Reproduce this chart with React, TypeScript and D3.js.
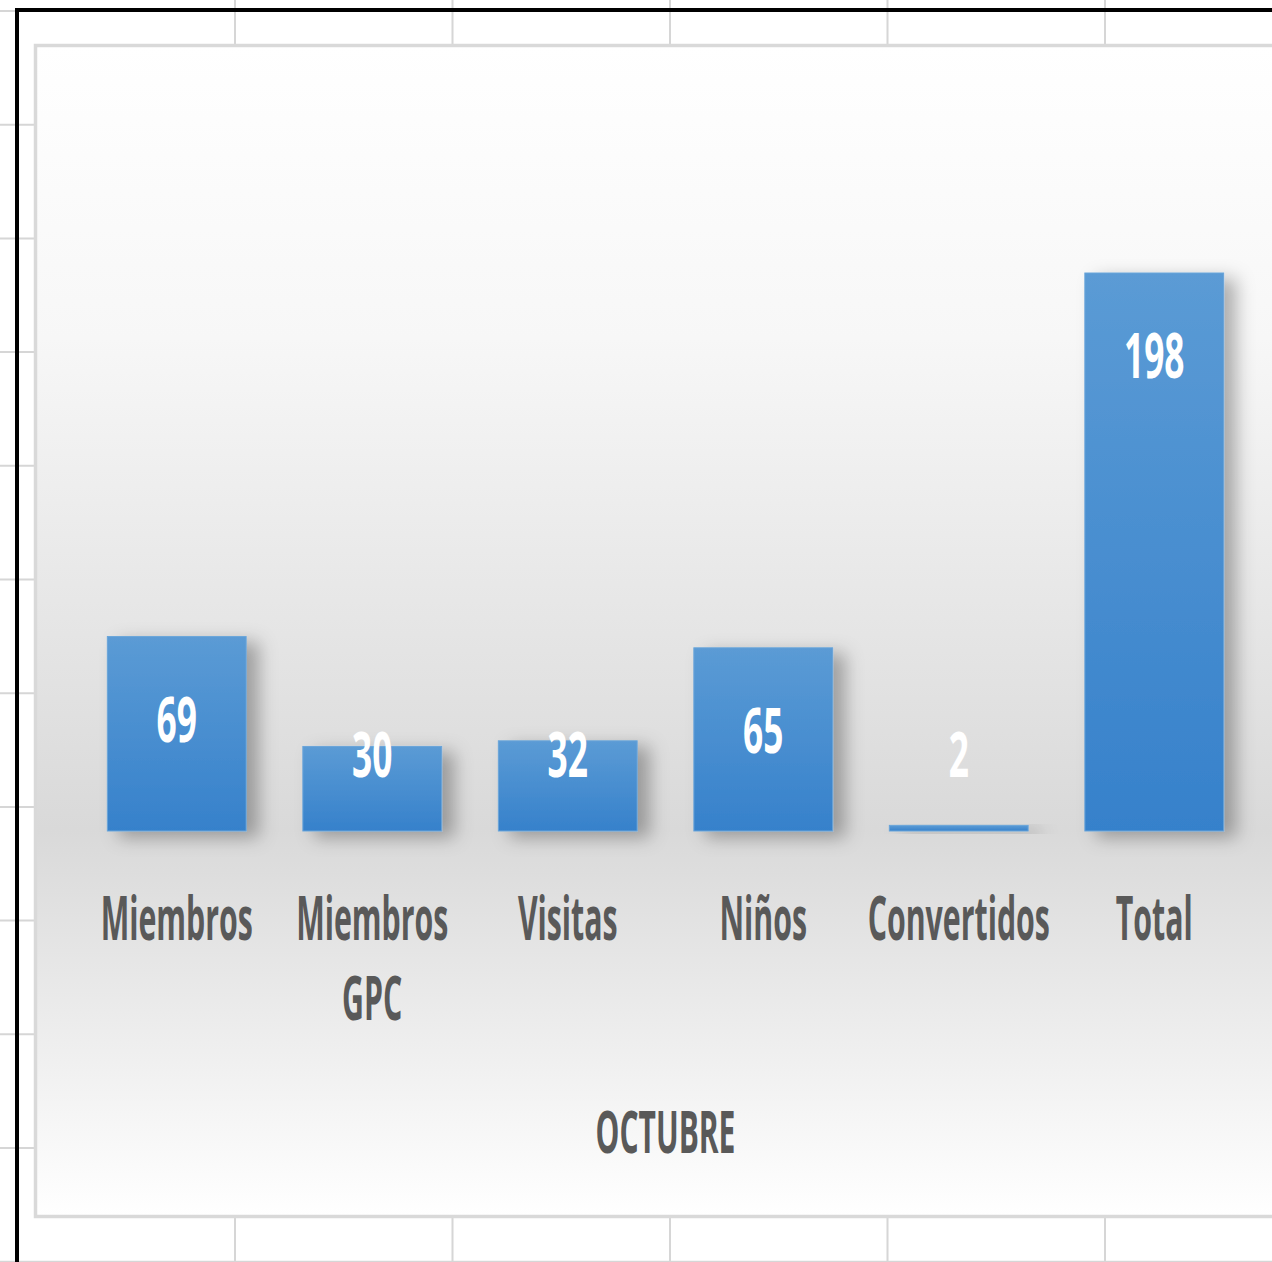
import React from "react";
import * as d3 from "d3";

const categories = ["Miembros", "Miembros GPC", "Visitas", "Niños", "Convertidos", "Total"];
const values = [69, 30, 32, 65, 2, 198];
const axisTitle = "OCTUBRE";

const W = 1272;
const H = 1262;

export default function App() {
  const x = d3.scaleBand<string>().domain(categories).range([79, 1252]).paddingInner(0.29).paddingOuter(0.145);
  const y = d3.scaleLinear().domain([0, 198]).range([831, 273]);

  const chartLeft = 35.5;
  const chartTop = 45.5;
  const chartBottom = 1216.5;

  const vGrid = d3.range(235, W, 217.5);
  const hGrid = d3.range(11, H, 113.7);

  const font = "'Open Sans', 'Noto Sans', sans-serif";

  return (
    <svg width={W} height={H} style={{ position: "absolute", left: 0, top: 0, background: "#fff" }}>
      <defs>
        <linearGradient id="bg" x1="0" y1="0" x2="0" y2="1">
          <stop offset="0" stopColor="#ffffff" />
          <stop offset="0.25" stopColor="#f7f7f7" />
          <stop offset="0.67" stopColor="#d9d9d9" />
          <stop offset="0.85" stopColor="#eeeeee" />
          <stop offset="1" stopColor="#ffffff" />
        </linearGradient>
        <linearGradient id="bar" x1="0" y1="0" x2="0" y2="1">
          <stop offset="0" stopColor="#5b9bd5" />
          <stop offset="1" stopColor="#3681cb" />
        </linearGradient>
        <filter id="sh" x="-20%" y="-20%" width="160%" height="160%">
          <feDropShadow dx="12" dy="6" stdDeviation="9" floodColor="#000" floodOpacity="0.3" />
        </filter>
      </defs>

      {vGrid.map((gx, i) => (
        <line key={"v" + i} x1={gx} x2={gx} y1={0} y2={H} stroke="#d6d6d6" strokeWidth={2} />
      ))}
      {hGrid.map((gy, i) => (
        <line key={"h" + i} x1={0} x2={W} y1={gy} y2={gy} stroke="#d6d6d6" strokeWidth={2} />
      ))}

      <line x1={17} x2={17} y1={8} y2={H} stroke="#000" strokeWidth={4} />
      <line x1={15} x2={W} y1={10} y2={10} stroke="#000" strokeWidth={4} />

      <rect x={chartLeft} y={chartTop} width={W + 20 - chartLeft} height={chartBottom - chartTop} fill="url(#bg)" stroke="#d9d9d9" strokeWidth={3.5} />

      {categories.map((c, i) => (
        <rect
          key={"b" + c}
          x={x(c)}
          y={y(values[i])}
          width={x.bandwidth()}
          height={y(0) - y(values[i])}
          fill="url(#bar)"
          stroke="#6aa5da"
          strokeWidth={1}
          filter="url(#sh)"
        />
      ))}

      {categories.map((c, i) => {
        const cx = (x(c) as number) + x.bandwidth() / 2;
        const by = Math.min(y(values[i]) + 105, 777);
        return (
          <text
            key={"l" + c}
            transform={`translate(${cx},${by}) scale(0.56,1)`}
            textAnchor="middle"
            fill="#ffffff"
            fontFamily={font}
            fontWeight={700}
            fontSize={63}
          >
            {values[i]}
          </text>
        );
      })}

      {categories.map((c) => {
        const cx = (x(c) as number) + x.bandwidth() / 2;
        const lines = c.split(" ");
        return lines.map((ln, j) => (
          <text
            key={"c" + c + j}
            transform={`translate(${cx},${940 + j * 80}) scale(0.505,1)`}
            textAnchor="middle"
            fill="#595959"
            fontFamily={font}
            fontWeight={700}
            fontSize={60}
          >
            {ln}
          </text>
        ));
      })}

      <text
        transform={`translate(${(x.range()[0] + x.range()[1]) / 2},1153) scale(0.5,1)`}
        textAnchor="middle"
        fill="#595959"
        fontFamily={font}
        fontWeight={700}
        fontSize={60}
      >
        {axisTitle}
      </text>
    </svg>
  );
}
